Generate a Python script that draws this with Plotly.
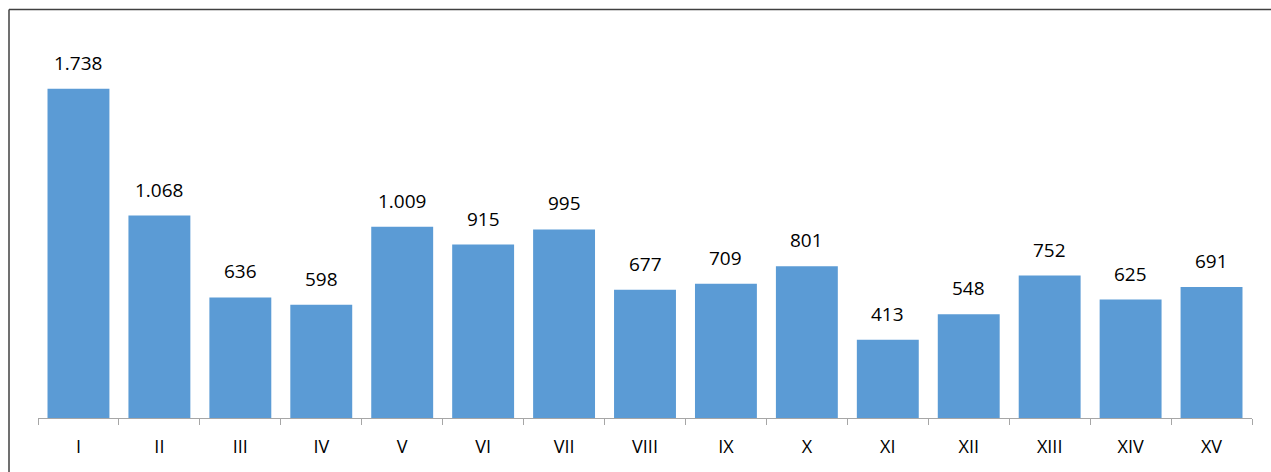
import plotly.graph_objects as go

categories = ["I", "II", "III", "IV", "V", "VI", "VII", "VIII", "IX", "X",
              "XI", "XII", "XIII", "XIV", "XV"]
values = [1738, 1068, 636, 598, 1009, 915, 995, 677, 709, 801,
          413, 548, 752, 625, 691]

W, H = 1271, 472
L, R = 38, 1252
TOP, BASE = 39.4, 418
pw = R - L
ph = BASE - TOP

FONT = "Open Sans, Liberation Sans, sans-serif"

fig = go.Figure(go.Bar(
    x=categories, y=values,
    marker=dict(color="#5B9BD5", line=dict(width=0)),
    hoverinfo="x+y",
))

annotations = [
    dict(x=c, y=v, xref="x", yref="y", text=f"{v:,}".replace(",", "."),
         showarrow=False, yanchor="bottom", yshift=11,
         font=dict(family=FONT, size=19, color="#000000"))
    for c, v in zip(categories, values)
]

fig.update_layout(
    width=W, height=H,
    margin=dict(l=L, r=W - R, t=TOP, b=H - BASE, pad=0),
    paper_bgcolor="white", plot_bgcolor="white",
    separators=",.",
    bargap=0.235,
    showlegend=False,
    annotations=annotations,
    xaxis=dict(showline=True, linecolor="#A6A6A6", linewidth=1.2,
               ticks="outside", tickson="boundaries", ticklen=6,
               tickcolor="#A6A6A6", tickwidth=1.2,
               ticklabelstandoff=12,
               tickfont=dict(family=FONT, size=18, color="#000000"),
               showgrid=False, zeroline=False),
    yaxis=dict(range=[0, 2000], visible=False, showgrid=False, zeroline=False),
    shapes=[
        dict(type="line", xref="paper", yref="paper",
             x0=(9 - L) / pw, x1=(W - L) / pw,
             y0=(BASE - 10) / ph, y1=(BASE - 10) / ph,
             line=dict(color="#404040", width=1.5)),
        dict(type="line", xref="paper", yref="paper",
             x0=(9 - L) / pw, x1=(9 - L) / pw,
             y0=(BASE - 10) / ph, y1=(BASE - H) / ph,
             line=dict(color="#404040", width=1.5)),
    ],
)

fig.write_html(
    "out.html",
    config={"displayModeBar": False},
    post_script="document.body.style.margin='0';document.body.style.overflow='hidden';",
)
